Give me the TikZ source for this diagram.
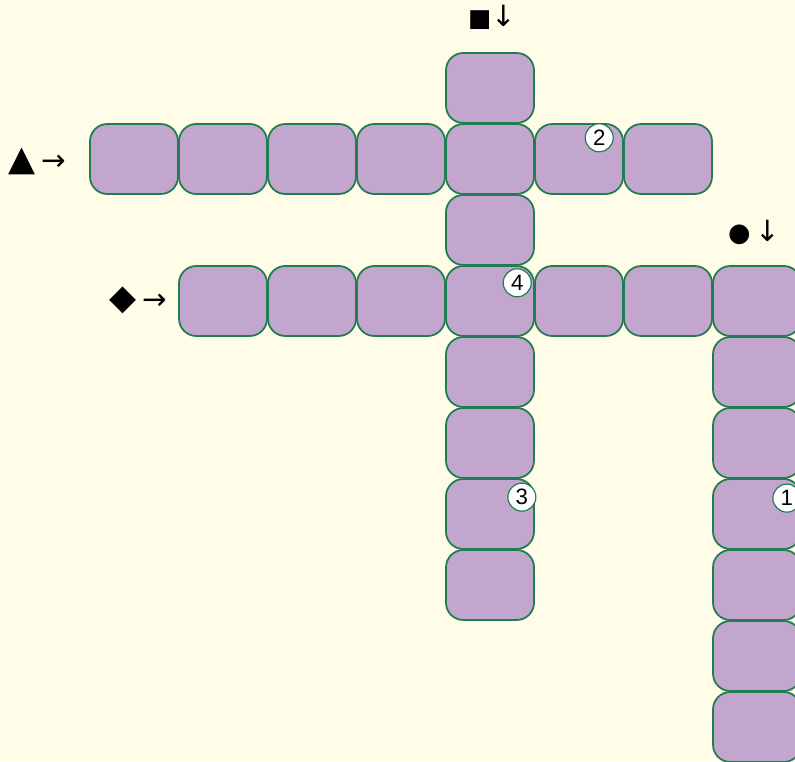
\documentclass[tikz,border=0pt]{standalone}
\usepackage{fontspec}
\setmainfont{Liberation Sans}
\newfontfamily\symfont{DejaVu Sans}
\usetikzlibrary{positioning}
\definecolor{Cream}{HTML}{FFFDE8}
\definecolor{Lilac}{HTML}{C2A6CD}
\definecolor{Leaf}{HTML}{1F7D50}
\newcommand{\glyph}[2]{{\fontsize{#1}{#1}\selectfont #2}}

\begin{document}
\begin{tikzpicture}[x=0.03cm,y=-0.03cm,
      cell/.style={draw=Leaf,fill=Lilac,line width=1.5pt,rounded corners=0.52cm,minimum width=2.64cm,minimum height=2.1cm,inner sep=0pt},
      num/.style={circle,draw=Leaf,fill=white,line width=1pt,minimum size=0.84cm,inner sep=0pt,font=\fontsize{19}{19}\selectfont},
      clue/.style={font=\symfont,inner sep=0pt,anchor=base}]
      \useasboundingbox[fill=Cream] (0,0) rectangle (795,761);
      % column below the square
      \foreach \j in {0,...,7}
        \node[cell] (sq\j) at (490,88+71*\j) {};
      % row after the triangle
      \foreach \i in {0,1,2,3,5,6}
        \node[cell] (tri\i) at (134+89*\i,159) {};
      % row after the diamond
      \foreach \i in {0,1,2,4,5}
        \node[cell] (dia\i) at (223+89*\i,301) {};
      % column below the dot
      \foreach \k in {0,...,6}
        \node[cell] (dot\k) at (757,301+71*\k) {};
      \node[num] (n2) at ([xshift=-0.74cm,yshift=-0.44cm]tri5.north east) {2};
      \node[num] (n4) at ([xshift=-0.53cm,yshift=-0.53cm]sq3.north east) {4};
      \node[num] (n3) at ([xshift=-0.39cm,yshift=-0.57cm]sq6.north east) {3};
      \node[num] (n1) at ([xshift=-0.45cm,yshift=-0.6cm]dot3.north east) {1};
      \node[clue] (sqclue) at (492,27) {\glyph{21}{■}\glyph{25}{↓}};
      \node[clue] (triclue) at (37,170) {\glyph{30}{▲}\hspace{5pt}\glyph{25}{→}};
      \node[clue] (diaclue) at (138,309) {\glyph{30}{◆}\hspace{5pt}\glyph{25}{→}};
      \node[clue] (dotclue) at (754,241) {\glyph{22}{●}\hspace{4pt}\glyph{25}{↓}};
    \end{tikzpicture}
\end{document}
